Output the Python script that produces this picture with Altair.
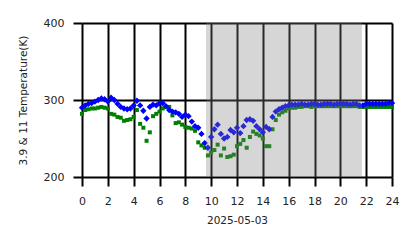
import altair as alt
import pandas as pd

hours = [i * 0.25 for i in range(97)]

blue = [290, 293, 295, 296, 298, 300, 302, 301,
        298, 303, 300, 295, 291, 289, 288, 289,
        293, 299, 293, 286, 276, 291, 294, 293,
        296, 296, 292, 287, 285, 284, 282, 278,
        281, 279, 272, 266, 264, 256, 244, 238,
        252, 262, 268, 256, 250, 252, 261, 258,
        264, 257, 266, 274, 275, 273, 266, 262,
        258, 265, 262, 278, 285, 288, 290, 292,
        293, 294, 294, 294, 295, 294, 294, 295,
        295, 294, 294, 295, 295, 295, 294, 295,
        295, 295, 295, 294, 295, 295, 293, 293,
        295, 295, 295, 295, 295, 295, 295, 296, 296]

green = [282, 287, 288, 289, 289, 290, 291, 290,
         289, 282, 281, 278, 277, 273, 274, 275,
         278, 287, 269, 264, 247, 258, 279, 282,
         285, 289, 291, 291, 280, 270, 271, 268,
         265, 264, 263, 260, 245, 241, 238, 228,
         232, 235, 242, 228, 237, 226, 227, 229,
         240, 243, 248, 238, 252, 259, 256, 254,
         250, 240, 240, 262, 274, 281, 284, 286,
         289, 290, 290, 291, 291, 292, 292, 291,
         292, 292, 292, 292, 292, 292, 292, 292,
         292, 292, 292, 292, 292, 292, 291, 291,
         291, 291, 291, 291, 291, 291, 291, 291, 291]

band_start = [9.6]
band_end = [21.67]
x_ticks = list(range(0, 25, 2))
y_ticks = [200, 300, 400]

df = pd.DataFrame({"h": hours, "blue": blue, "green": green})
band = pd.DataFrame({"s": band_start, "e": band_end})

xscale = alt.Scale(domain=[0, 24], nice=False)
yscale = alt.Scale(domain=[200, 400], nice=False)

common = dict(grid=True, domain=False,
              gridColor="black", gridWidth=2, gridOpacity=1,
              tickColor="black", tickWidth=2, tickSize=9,
              labelPadding=9, labelFont="DejaVu Sans", labelFontSize=11,
              labelColor="#222", titleFont="DejaVu Sans", titleFontSize=10.5,
              titleFontWeight="normal", titleColor="#222",
              labelFlush=False, labelOverlap=False)
xaxis = alt.Axis(values=x_ticks, title="2025-05-03", titleY=38, titleBaseline="top", **common)
yaxis = alt.Axis(values=y_ticks, title="3.9 & 11 Temperature(K)", titleX=-54, **common)

X = alt.X("h:Q", scale=xscale, axis=xaxis)

green_pts = alt.Chart(df).mark_point(shape="square", filled=True, size=16, color="#008000", opacity=1).encode(
    x=X,
    y=alt.Y("green:Q", scale=yscale, axis=yaxis),
)
blue_pts = alt.Chart(df).mark_point(shape="diamond", filled=True, size=40, color="#0000ff", opacity=1).encode(
    x=X,
    y=alt.Y("blue:Q", scale=yscale, axis=yaxis),
)
band_rect = alt.Chart(band).mark_rect(color="#808080", opacity=0.32).encode(
    x=alt.X("s:Q", scale=xscale, axis=xaxis),
    x2="e:Q",
    y=alt.value(0),
    y2=alt.value(154),
)

chart = alt.layer(green_pts, blue_pts, band_rect).properties(
    width=310, height=154,
    autosize=alt.AutoSizeParams(type="none"),
    padding={"left": 82, "top": 23, "right": 26, "bottom": 71},
).configure_axis(zindex=1).configure_view(stroke=None)

chart.save("out.html", embed_options={"renderer": "svg", "actions": False})
